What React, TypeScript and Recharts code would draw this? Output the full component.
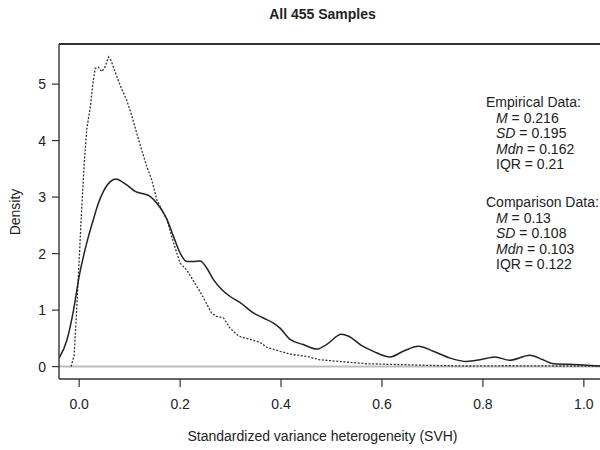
import React from 'react';
import {
    LineChart,
    Line,
    XAxis,
    YAxis,
    ReferenceLine,
} from 'recharts';

// empirical density (solid)
const empX = [
    -0.04, -0.038, -0.024, -0.011, 0.0, 0.015, 0.028, 0.038, 0.048, 0.061, 0.073, 0.085,
    0.098, 0.111, 0.127, 0.141, 0.154, 0.167, 0.174, 0.187, 0.2, 0.213, 0.226, 0.24,
    0.253, 0.266, 0.283, 0.299, 0.319, 0.345, 0.365, 0.385, 0.398, 0.418, 0.444, 0.471,
    0.49, 0.52, 0.533, 0.56, 0.583, 0.616, 0.642, 0.672, 0.702, 0.735, 0.768, 0.794,
    0.824, 0.853, 0.893, 0.919, 0.939, 0.97, 1.0, 1.032,
];
const empY = [
    0.15, 0.18, 0.48, 1.01, 1.6, 2.19, 2.6, 2.89, 3.1, 3.27, 3.32, 3.27,
    3.19, 3.1, 3.06, 3.01, 2.89, 2.72, 2.6, 2.3, 2.01, 1.86, 1.86, 1.87,
    1.74, 1.54, 1.36, 1.24, 1.13, 0.95, 0.86, 0.77, 0.68, 0.48, 0.39, 0.31,
    0.39, 0.57, 0.54, 0.37, 0.27, 0.17, 0.27, 0.36, 0.27, 0.15, 0.09, 0.12,
    0.17, 0.11, 0.2, 0.12, 0.05, 0.04, 0.03, 0.01,
];

// comparison density (dotted)
const cmpX = [
    -0.016, -0.01, -0.005, 0.0, 0.005, 0.01, 0.015, 0.022, 0.028, 0.032, 0.038, 0.045,
    0.051, 0.058, 0.063, 0.071, 0.081, 0.094, 0.104, 0.114, 0.124, 0.134, 0.144, 0.154,
    0.164, 0.174, 0.187, 0.2, 0.213, 0.229, 0.245, 0.262, 0.272, 0.286, 0.299, 0.316,
    0.339, 0.358, 0.372, 0.398, 0.424, 0.451, 0.477, 0.517, 0.57, 0.636, 0.7, 0.768,
    0.85, 0.95, 1.032,
];
const cmpY = [
    0.0, 0.2, 1.0, 1.9, 2.8, 3.6, 4.2, 4.6, 5.07, 5.28, 5.3, 5.22,
    5.3, 5.48, 5.42, 5.22, 4.98, 4.72, 4.45, 4.13, 3.83, 3.54, 3.3, 2.95,
    2.77, 2.6, 2.19, 1.83, 1.71, 1.48, 1.24, 0.95, 0.89, 0.86, 0.68, 0.54,
    0.48, 0.43, 0.34, 0.27, 0.21, 0.18, 0.12, 0.09, 0.05, 0.035, 0.02, 0.01,
    0.015, 0.01, 0.01,
];

const xTicks = [0, 0.2, 0.4, 0.6, 0.8, 1.0];
const yTicks = [0, 1, 2, 3, 4, 5];
const xDomain = [-0.04, 1.032];
const yDomain = [-0.22, 5.71];

const empStats = [
    ['M', ' = 0.216'],
    ['SD', ' = 0.195'],
    ['Mdn', ' = 0.162'],
    ['', 'IQR = 0.21'],
];
const cmpStats = [
    ['M', ' = 0.13'],
    ['SD', ' = 0.108'],
    ['Mdn', ' = 0.103'],
    ['', 'IQR = 0.122'],
];

const empData = empX.map((x, i) => ({ x, y: empY[i] }));
const cmpData = cmpX.map((x, i) => ({ x, y: cmpY[i] }));

const font = '"Liberation Sans", Arial, sans-serif';
const ink = '#222';
const frame = { stroke: '#333', strokeWidth: 1.4 };

function StatBlock({ title, rows, top }: { title: string; rows: string[][]; top: number }) {
    return (
        <div style={{ position: 'absolute', left: 486, top, fontSize: 14, lineHeight: '15.5px', color: ink }}>
            <div>{title}</div>
            {rows.map((r, i) => (
                <div key={i} style={{ paddingLeft: 10 }}>
                    {r[0] && <i>{r[0]}</i>}
                    {r[1]}
                </div>
            ))}
        </div>
    );
}

export default function App() {
    return (
        <div style={{ position: 'absolute', left: 0, top: 0, width: 600, height: 450, fontFamily: font, background: '#fff', overflow: 'hidden' }}>
            <LineChart
                width={600}
                height={450}
                margin={{ top: 44, right: 0, bottom: 0, left: 0 }}
            >
                <XAxis
                    dataKey="x"
                    type="number"
                    domain={xDomain}
                    allowDataOverflow
                    ticks={xTicks}
                    tickFormatter={(v: number) => v.toFixed(1)}
                    height={71}
                    tickSize={8}
                    tickMargin={12}
                    axisLine={frame}
                    tickLine={{ stroke: '#333', strokeWidth: 1.2 }}
                    tick={{ fill: ink, fontSize: 14, fontFamily: font }}
                />
                <YAxis
                    type="number"
                    domain={yDomain}
                    allowDataOverflow
                    ticks={yTicks}
                    width={59}
                    tickSize={7}
                    tickMargin={6}
                    axisLine={frame}
                    tickLine={{ stroke: '#333', strokeWidth: 1.2 }}
                    tick={{ fill: ink, fontSize: 14, fontFamily: font }}
                />
                {/* top edge of the box */}
                <ReferenceLine y={yDomain[1]} stroke="#333" strokeWidth={2} ifOverflow="visible" />
                <ReferenceLine y={0} stroke="#bdbdbd" strokeWidth={2} />
                <Line
                    data={cmpData}
                    dataKey="y"
                    type="linear"
                    stroke="#333"
                    strokeWidth={1.3}
                    strokeDasharray="2 1.6"
                    dot={false}
                    isAnimationActive={false}
                />
                <Line
                    data={empData}
                    dataKey="y"
                    type="monotone"
                    stroke={ink}
                    strokeWidth={1.5}
                    dot={false}
                    isAnimationActive={false}
                />
            </LineChart>

            <div style={{ position: 'absolute', left: 0, width: 645, top: 6, textAlign: 'center', fontWeight: 'bold', fontSize: 14, color: ink }}>
                All 455 Samples
            </div>
            <div style={{ position: 'absolute', left: 0, width: 645, top: 428, textAlign: 'center', fontSize: 14, color: ink }}>
                Standardized variance heterogeneity (SVH)
            </div>
            <div style={{ position: 'absolute', left: 15, top: 212, transform: 'translate(-50%, -50%) rotate(-90deg)', fontSize: 14, color: ink, whiteSpace: 'nowrap' }}>
                Density
            </div>

            <StatBlock title="Empirical Data:" rows={empStats} top={95} />
            <StatBlock title="Comparison Data:" rows={cmpStats} top={195} />
        </div>
    );
}
